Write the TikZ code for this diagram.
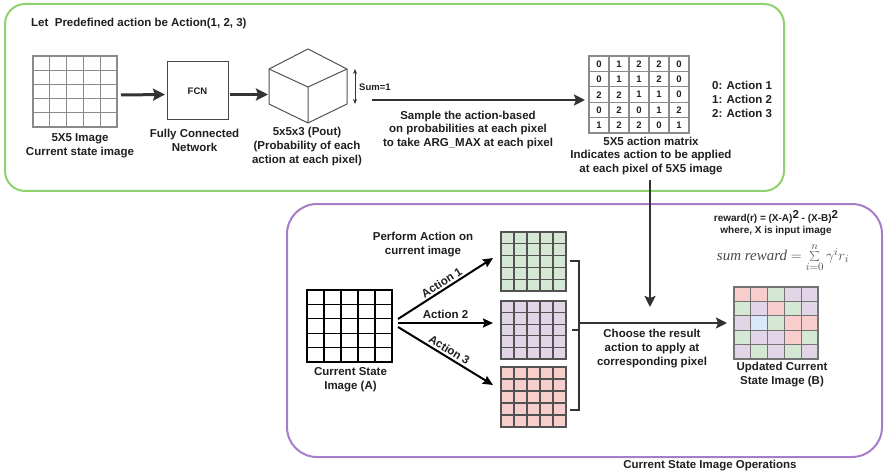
\documentclass[tikz,border=0pt]{standalone}
\usepackage{fontspec}
\setmainfont{Liberation Sans}
\newfontfamily\formulafont{Liberation Serif}
\usetikzlibrary{arrows.meta,calc}

\definecolor{frameGreen}{HTML}{8FD16F}
\definecolor{framePurple}{HTML}{A67DC8}
\definecolor{cellGreen}{HTML}{D5E8D4}
\definecolor{cellPurple}{HTML}{E1D5E7}
\definecolor{cellRed}{HTML}{F8CECC}
\definecolor{cellBlue}{HTML}{DAE8FC}
\definecolor{ink}{HTML}{333333}
\definecolor{gridGray}{HTML}{8A8A8A}

% inner lines of a 5x5 grid inside a rectangular node of width #2 and height #3
\newcommand\fivegrid[4]{%
  \foreach \k in {1,2,3,4}{%
    \draw[#4] ($(#1.north west)+(\k*#2/5,0)$) -- ++(0,#3);
    \draw[#4] ($(#1.north west)+(0,\k*#3/5)$) -- ++(#2,0);
  }}

\begin{document}
\begin{tikzpicture}[x=1pt,y=-1pt,
  lbl/.style={align=center, inner sep=0, text=black!88,
    font=\bfseries\fontsize{11.5}{13.8}\selectfont},
  small/.style={inner sep=0, text=black!88, font=\bfseries\fontsize{9.5}{11}\selectfont},
  gridbox/.style={inner sep=0, outer sep=0},
  bigarrow/.style={draw=ink, line width=3, -{Stealth[length=12,width=12,inset=2]}},
  midarrow/.style={draw=ink, line width=2.5, -{Stealth[length=11,width=11,inset=2]}},
  fanarrow/.style={draw=black, line width=2, -{Stealth[length=10,width=9,inset=1.5]}},
]
\useasboundingbox (0,0) rectangle (884,476);

% ---------- stage 1: action selection ----------
\draw[frameGreen, line width=2, rounded corners=20] (5,4) rectangle (784,191);
\node[lbl, anchor=west] (title) at (31,24) {Let\ \ Predefined action be Action(1, 2, 3)};

% input image
\node[gridbox, draw=gridGray, line width=1.3, minimum width=84, minimum height=71] (img) at (75,91.5) {};
\fivegrid{img}{84}{71}{gridGray, line width=1.3}
\node[lbl] (imgcap) at (80,145.5) {5X5 Image\\Current state image};

% network
\node[gridbox, draw=ink!90, line width=1, minimum width=61, minimum height=58, small] (fcn) at (197.5,91) {FCN};
\node[lbl] (fcncap) at (194.5,140) {Fully Connected\\Network};
\draw[bigarrow] ($(img.east)+(4,3.5)$) -- ($(fcn.west)+(-2,3.5)$);

% probability cube
\coordinate (cubeL) at (268,94.5);
\draw[ink!85, line width=1, line join=round]
  (269,69) -- (269,104) -- (308,123) -- (347,104) -- (347,69) -- (308,49) -- cycle
  (269,69) -- (308,87) -- (347,69)
  (308,87) -- (308,123);
\draw[bigarrow] ($(fcn.east)+(2,3.5)$) -- (cubeL);
\node[lbl] (cubecap) at (307,146.5) {5x5x3 (Pout)\\(Probability of each\\action at each pixel)};

\coordinate (sumTop) at (355,69);
\coordinate (sumBot) at (355,104);
\draw[ink, line width=1, {Stealth[length=5,width=4]}-{Stealth[length=5,width=4]}] (sumTop) -- (sumBot);
\node[small, anchor=west] (sum) at (359,87) {Sum=1};

% action matrix
\node[gridbox, draw=gridGray, line width=1.2, minimum width=100, minimum height=77] (mat) at (639,94.5) {};
\fivegrid{mat}{100}{77}{gridGray, line width=1.2}
\foreach \row [count=\r from 0] in {{0,1,2,2,0},{0,1,1,2,0},{2,2,1,1,0},{0,2,0,1,2},{1,2,2,0,1}}{
  \foreach \v [count=\c from 0] in \row {
    \node[small] (m-\r-\c) at ($(mat.north west)+(\c*20+10,\r*15.4+7.9)$) {\v};
  }}
\coordinate (sampleFrom) at (372,100);
\draw[midarrow] (sampleFrom) -- ($(mat.west)+(-4,5.5)$);
\node[lbl] (samplecap) at (468,130) {Sample the action-based\\on probabilities at each pixel\\to take ARG\_MAX at each pixel};
\node[lbl, align=left, anchor=west] (legend) at (712,99.5) {0: Action 1\\1: Action 2\\2: Action 3};
\node[lbl] (matcap) at (651,156) {5X5 action matrix\\Indicates action to be applied\\at each pixel of 5X5 image};

% ---------- stage 2: image operations ----------
\draw[framePurple, line width=2, rounded corners=30] (287,204) rectangle (882,457);
\node[lbl] (opscap) at (710,466) {Current State Image Operations};

% current state image
\node[gridbox, draw=black, line width=1.3, minimum width=85, minimum height=72] (imA) at (349.5,326) {};
\fivegrid{imA}{85}{72}{black, line width=1.3}
\node[lbl] (imAcap) at (350.5,380) {Current State\\Image (A)};
\node[lbl] (perform) at (423,244.5) {Perform Action on\\current image};

% images after each action
\node[gridbox, fill=cellGreen, draw=ink!85, line width=1.2, minimum width=65, minimum height=59] (r1) at (533.5,261.5) {};
\fivegrid{r1}{65}{59}{ink!85, line width=1.2}
\node[gridbox, fill=cellPurple, draw=ink!85, line width=1.2, minimum width=65, minimum height=58] (r2) at (533.5,330) {};
\fivegrid{r2}{65}{58}{ink!85, line width=1.2}
\node[gridbox, fill=cellRed, draw=ink!85, line width=1.2, minimum width=65, minimum height=60] (r3) at (533.5,397) {};
\fivegrid{r3}{65}{60}{ink!85, line width=1.2}

\draw[fanarrow] ($(imA.east)+(6,-7)$) -- node[lbl, sloped, above=2] (a1) {Action 1} ($(r1.west)+(-8,-3.5)$);
\draw[fanarrow] ($(imA.east)+(6,-3)$) -- node[lbl, sloped, above=3] (a2) {Action 2} ($(r2.west)+(-8,-7)$);
\draw[fanarrow] ($(imA.east)+(6,1)$) -- node[lbl, sloped, above=2] (a3) {Action 3} ($(r3.west)+(-8,-12)$);

% bracket collecting the three results
\coordinate (brTop) at (570,261);
\coordinate (brBot) at (570,410);
\coordinate (bracket) at (579,323);
\draw[ink, line width=1.2] (brTop) -- (579,261) -- (579,410) -- (brBot)
  (579,330) -- (572,330);

% updated image
\node[gridbox, minimum width=84, minimum height=72] (upd) at (776,323) {};
\foreach \clr [count=\n from 0] in {cellRed,cellRed,cellGreen,cellPurple,cellPurple,
    cellGreen,cellPurple,cellRed,cellGreen,cellPurple,
    cellPurple,cellBlue,cellGreen,cellRed,cellRed,
    cellGreen,cellPurple,cellPurple,cellRed,cellGreen,
    cellPurple,cellGreen,cellPurple,cellGreen,cellPurple}{
  \pgfmathtruncatemacro\cc{mod(\n,5)}
  \pgfmathtruncatemacro\rr{\n/5}
  \fill[\clr] ($(upd.north west)+(\cc*16.8,\rr*14.4)$) rectangle ++(16.8,14.4);
}
\fivegrid{upd}{84}{72}{black!55, line width=1.1}
\draw[black!55, line width=1.1] (upd.north west) rectangle (upd.south east);
\node[lbl] (updcap) at (782,374.5) {Updated Current\\State Image (B)};

\draw[midarrow] (bracket) -- ($(upd.west)+(-7,0)$);
\coordinate (dropFrom) at (650,180);
\coordinate (dropTo) at (650,307);
\draw[midarrow] (dropFrom) -- (dropTo);
\node[lbl] (choose) at (652,348.5) {Choose the result\\action to apply at\\corresponding pixel};

% reward
\node[lbl, font=\bfseries\fontsize{10}{12}\selectfont] (reward) at (776,217)
  {reward(r) = (X-A)\raisebox{3.5pt}{\fontsize{11.5}{11}\selectfont 2} - (X-B)\raisebox{3.5pt}{\fontsize{11.5}{11}\selectfont 2}};
\node[lbl, font=\bfseries\fontsize{10}{12}\selectfont] (where) at (776,231) {where, X is input image};
\node[inner sep=0, text=black!70] (sumrew) at (783,258)
  {\fontsize{15}{15}\selectfont\formulafont\itshape sum reward\/ $=\sum\limits_{i=0}^{n}\gamma^{i}r_{i}$};
\end{tikzpicture}
\end{document}
